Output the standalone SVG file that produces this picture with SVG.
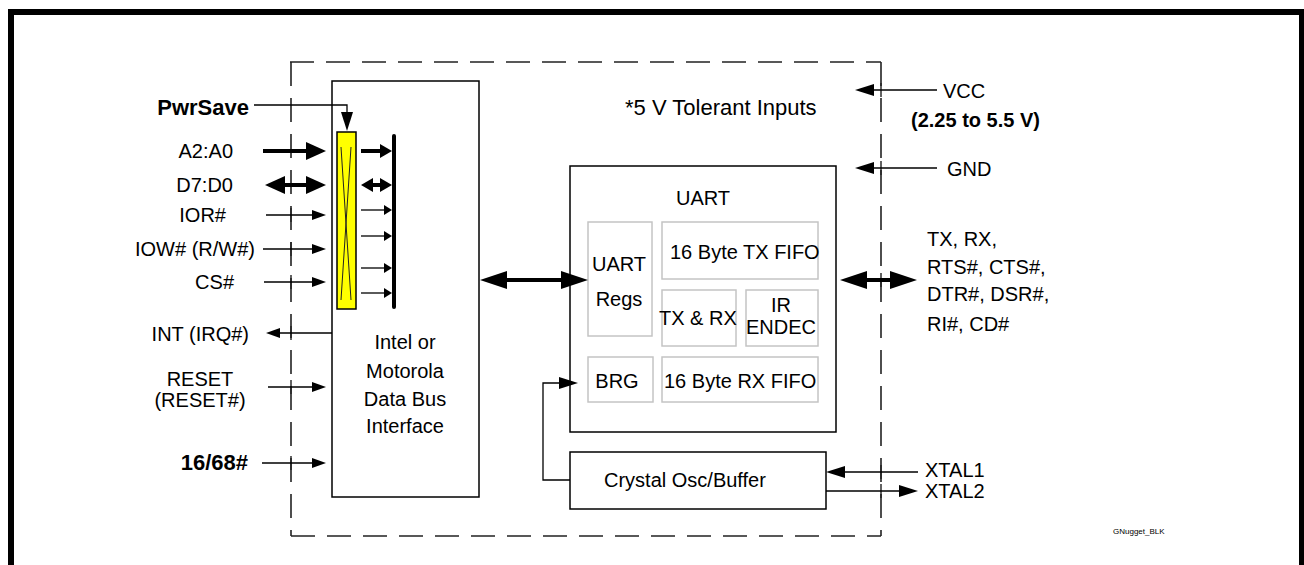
<svg xmlns="http://www.w3.org/2000/svg" width="1304" height="565" viewBox="0 0 1304 565">
<style>
text{font-family:"Liberation Sans",Arial,sans-serif;font-size:20px;fill:#000}
.b{font-weight:bold}
.big{font-size:22px}
.m{text-anchor:middle}
.e{text-anchor:end}
.box{fill:#fff;stroke:#000;stroke-width:1.5}
.gbox{fill:#fff;stroke:#c4c4c4;stroke-width:1.5}
.dash{fill:none;stroke:#222;stroke-width:1.6;stroke-dasharray:24 12}
.tick{stroke:#222;stroke-width:1.4}
.thin{fill:none;stroke:#000;stroke-width:1.3}
.thick{fill:none;stroke:#000;stroke-width:4}
.mk{fill:#000}
</style>
<defs>
<marker id="ah" viewBox="0 -5 14 10" refX="0" refY="0" markerWidth="14" markerHeight="10" markerUnits="userSpaceOnUse" orient="auto-start-reverse"><path class="mk" d="M0,-5 L14,0 L0,5 z"/></marker>
<marker id="ahs" viewBox="0 -5 8 10" refX="0" refY="0" markerWidth="8" markerHeight="10" markerUnits="userSpaceOnUse" orient="auto-start-reverse"><path class="mk" d="M0,-5 L8,0 L0,5 z"/></marker>
<marker id="ahm" viewBox="0 -6 19 12" refX="0" refY="0" markerWidth="19" markerHeight="12" markerUnits="userSpaceOnUse" orient="auto-start-reverse"><path class="mk" d="M0,-6 L19,0 L0,6 z"/></marker>
<marker id="aht" viewBox="0 -9 20 18" refX="0" refY="0" markerWidth="20" markerHeight="18" markerUnits="userSpaceOnUse" orient="auto-start-reverse"><path class="mk" d="M0,-9 L20,0 L0,9 z"/></marker>
<marker id="ahts" viewBox="0 -7 12 14" refX="0" refY="0" markerWidth="12" markerHeight="14" markerUnits="userSpaceOnUse" orient="auto-start-reverse"><path class="mk" d="M0,-7 L12,0 L0,7 z"/></marker>
<marker id="ahb" viewBox="0 -9 27 18" refX="0" refY="0" markerWidth="27" markerHeight="18" markerUnits="userSpaceOnUse" orient="auto-start-reverse"><path class="mk" d="M0,-9 L27,0 L0,9 z"/></marker>
</defs>

<rect x="11" y="12" width="1291" height="600" fill="none" stroke="#000" stroke-width="6"/>

<g id="boundary">
<path class="dash" d="M290,62 H881"/>
<path class="dash" d="M291,62 V536"/>
<path class="dash" d="M881,62 V536"/>
<path class="dash" d="M291,536 H881"/>
<path class="tick" d="M291,208 V222 M291,242 V256 M291,275 V289 M291,326 V340 M291,380 V394 M291,456 V470 M881,83 V97 M881,161 V175 M881,273 V287 M881,465 V479 M881,484 V498"/>
<text class="big" x="625" y="115">*5 V Tolerant Inputs</text>
</g>

<g id="intel">
<rect class="box" x="332" y="81" width="147" height="416"/>
<text class="m" x="405" y="349">Intel or</text>
<text class="m" x="405" y="378">Motorola</text>
<text class="m" x="405" y="406">Data Bus</text>
<text class="m" x="405" y="433">Interface</text>
</g>

<g id="latch">
<rect x="337" y="132" width="19" height="177" fill="#ffff00" stroke="#000" stroke-width="1.5"/>
<path d="M341,147 L351,300 M351,147 L341,300" stroke="#222" stroke-width="1"/>
</g>

<g id="bus-bar">
<line x1="394" y1="136" x2="394" y2="307" stroke="#000" stroke-width="4" stroke-linecap="round"/>
</g>

<g id="uart">
<rect class="box" x="570" y="166" width="266" height="266"/>
<text class="m" x="703" y="205">UART</text>
</g>
<g id="uart-regs">
<rect class="gbox" x="588" y="222" width="64" height="114"/>
<text class="m" x="619" y="271">UART</text>
<text class="m" x="619" y="306">Regs</text>
</g>
<g id="tx-fifo">
<rect class="gbox" x="662" y="222" width="156" height="57"/>
<text x="670" y="259">16 Byte TX FIFO</text>
</g>
<g id="txrx">
<rect class="gbox" x="662" y="290" width="74" height="56"/>
<text x="659" y="325">TX &amp; RX</text>
</g>
<g id="ir-endec">
<rect class="gbox" x="746" y="290" width="72" height="56"/>
<text class="m" x="781" y="312">IR</text>
<text class="m" x="781" y="334">ENDEC</text>
</g>
<g id="brg">
<rect class="gbox" x="588" y="357" width="65" height="45"/>
<text class="m" x="617" y="388">BRG</text>
</g>
<g id="rx-fifo">
<rect class="gbox" x="662" y="357" width="156" height="45"/>
<text x="664" y="388">16 Byte RX FIFO</text>
</g>

<g id="crystal">
<rect class="box" x="570" y="452" width="256" height="57"/>
<text x="604" y="487">Crystal Osc/Buffer</text>
</g>

<g id="left-labels">
<text class="b e big" x="249" y="115">PwrSave</text>
<text class="e" x="233" y="158">A2:A0</text>
<text class="e" x="233" y="192">D7:D0</text>
<text class="e" x="226" y="222">IOR#</text>
<text class="e" x="255" y="256">IOW# (R/W#)</text>
<text class="e" x="234" y="289">CS#</text>
<text class="e" x="249" y="341">INT (IRQ#)</text>
<text class="m" x="200" y="386">RESET</text>
<text class="m" x="200" y="407">(RESET#)</text>
<text class="b e big" x="248" y="470">16/68#</text>
</g>

<g id="right-labels">
<text x="943" y="98">VCC</text>
<text class="b" x="911" y="127">(2.25 to 5.5 V)</text>
<text x="947" y="176">GND</text>
<text x="927" y="246">TX, RX,</text>
<text x="927" y="274">RTS#, CTS#,</text>
<text x="927" y="301">DTR#, DSR#,</text>
<text x="927" y="331">RI#, CD#</text>
<text x="925" y="477">XTAL1</text>
<text x="925" y="498">XTAL2</text>
<text x="1113" y="534" style="font-size:8px">GNugget_BLK</text>
</g>

<g id="connectors">
<path class="thin" d="M254,105 H347 V112" marker-end="url(#ahm)"/>
<line class="thick" x1="263" y1="151" x2="306" y2="151" marker-end="url(#aht)"/>
<line class="thick" x1="285" y1="185" x2="306" y2="185" marker-start="url(#aht)" marker-end="url(#aht)"/>
<line class="thin" x1="266" y1="215" x2="312" y2="215" marker-end="url(#ah)"/>
<line class="thin" x1="263" y1="249" x2="312" y2="249" marker-end="url(#ah)"/>
<line class="thin" x1="264" y1="282" x2="312" y2="282" marker-end="url(#ah)"/>
<line class="thin" x1="332" y1="333" x2="280" y2="333" marker-end="url(#ah)"/>
<line class="thin" x1="268" y1="387" x2="312" y2="387" marker-end="url(#ah)"/>
<line class="thin" x1="262" y1="463" x2="312" y2="463" marker-end="url(#ah)"/>

<line class="thick" x1="361" y1="151" x2="380" y2="151" marker-end="url(#ahts)"/>
<line class="thick" x1="373" y1="185" x2="380" y2="185" marker-start="url(#ahts)" marker-end="url(#ahts)"/>
<line class="thin" x1="361" y1="210" x2="384" y2="210" marker-end="url(#ahs)"/>
<line class="thin" x1="361" y1="236" x2="384" y2="236" marker-end="url(#ahs)"/>
<line class="thin" x1="361" y1="268" x2="384" y2="268" marker-end="url(#ahs)"/>
<line class="thin" x1="361" y1="293" x2="384" y2="293" marker-end="url(#ahs)"/>

<line class="thick" x1="507" y1="280" x2="561" y2="280" marker-start="url(#ahb)" marker-end="url(#ahb)"/>
<line class="thick" x1="867" y1="280" x2="890" y2="280" marker-start="url(#ahb)" marker-end="url(#ahb)"/>

<line class="thin" x1="937" y1="90" x2="874" y2="90" marker-end="url(#ahm)"/>
<line class="thin" x1="937" y1="168" x2="874" y2="168" marker-end="url(#ahm)"/>
<line class="thin" x1="918" y1="472" x2="845" y2="472" marker-end="url(#ahm)"/>
<line class="thin" x1="826" y1="491" x2="899" y2="491" marker-end="url(#ahm)"/>
<path class="thin" d="M570,480 H543 V383 H559" marker-end="url(#ahm)"/>
</g>
</svg>
